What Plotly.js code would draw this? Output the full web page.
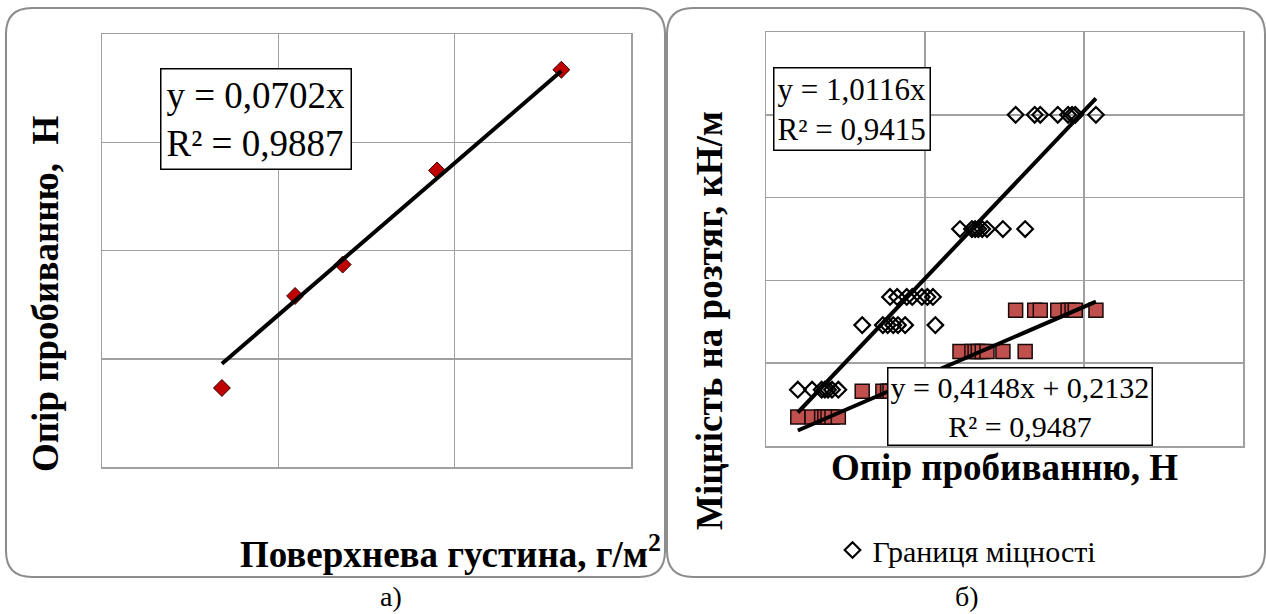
<!DOCTYPE html>
<html>
<head>
<meta charset="utf-8">
<script src="https://cdn.plot.ly/plotly-3.0.1.min.js"></script>
<style>html,body{margin:0;padding:0;background:#fff;}#chart{width:1266px;height:614px;}</style>
</head>
<body>
<div id="chart"></div>
<script>
// ---------- Panel а) data ----------
const surfaceDensity = [136, 219, 273, 380, 521];          // г/м²
const punctureResistance = [7.3, 15.8, 18.7, 27.4, 36.7];  // Н
const trendA = {slope: 0.0702, intercept: 0, r2: 0.9887};

// ---------- Panel б) data ----------
// x: Опір пробиванню, Н
const punctureX = [
  4.0, 5.8, 7.0, 7.4, 7.8, 8.3, 9.1,
  12.1, 14.7, 15.3, 16.0, 16.6, 17.5, 21.3,
  15.6, 16.5, 17.7, 18.4, 19.6, 20.3, 21.0,
  24.4, 25.9, 26.3, 26.7, 27.2, 27.8, 29.8, 32.6,
  31.4, 33.8, 34.5, 36.7, 38.0, 38.5, 38.9, 41.5
];
// Границя міцності (diamonds), кН/м
const strengthLimit = [
  6.8, 6.8, 6.8, 6.8, 6.8, 6.8, 6.8,
  14.6, 14.6, 14.6, 14.6, 14.6, 14.6, 14.6,
  18.0, 18.0, 18.0, 18.0, 18.0, 18.0, 18.0,
  26.2, 26.2, 26.2, 26.2, 26.2, 26.2, 26.2, 26.2,
  40.0, 40.0, 40.0, 40.0, 40.0, 40.0, 40.0, 40.0
];
// second series (red squares), кН/м
const secondStrength = [
  3.5, 3.5, 3.5, 3.5, 3.5, 3.5, 3.5,
  6.6, 6.6, 6.6, 6.6, 6.6, 6.6, 6.6,
  6.6, 6.6, 6.6, 6.6, 6.6, 6.6, 6.6,
  11.4, 11.4, 11.4, 11.4, 11.4, 11.4, 11.4, 11.4,
  16.4, 16.4, 16.4, 16.4, 16.4, 16.4, 16.4, 16.4
];
const trendB1 = {slope: 1.0116, intercept: 0, r2: 0.9415};
const trendB2 = {slope: 0.4148, intercept: 0.2132, r2: 0.9487};

const titles = {
  aX: 'Поверхнева густина, г/м<sup>2</sup>',
  aY: 'Опір пробиванню,\u00a0 Н',
  bX: 'Опір пробиванню, Н',
  bY: 'Міцність на розтяг, кН/м',
  legend: 'Границя міцності',
  capA: 'а)',
  capB: 'б)'
};

// ---------- helpers ----------
const W = 1266, H = 614;
const PX = v => v / W;
const PY = v => 1 - v / H;
function fmt(v, d) { return v.toFixed(d).replace('.', ','); }
function trendLine(xs, t) {
  const x0 = Math.min(...xs), x1 = Math.max(...xs);
  return {x: [x0, x1], y: [t.slope * x0 + t.intercept, t.slope * x1 + t.intercept]};
}
function roundRect(x0, y0, x1, y1, r) {
  const rx = r / W, ry = r / H;
  const L = PX(x0), R = PX(x1), T = PY(y0), B = PY(y1);
  return `M${L + rx},${T} L${R - rx},${T} Q${R},${T} ${R},${T - ry} L${R},${B + ry} Q${R},${B} ${R - rx},${B} ` +
         `L${L + rx},${B} Q${L},${B} ${L},${B + ry} L${L},${T - ry} Q${L},${T} ${L + rx},${T} Z`;
}

const serif = '"Liberation Serif", "DejaVu Serif", serif';
const gridC = '#a0a0a0';

const tA = trendLine(surfaceDensity, trendA);
const tB1 = trendLine(punctureX, trendB1);
const tB2 = trendLine(punctureX, trendB2);

const data = [
  {x: surfaceDensity, y: punctureResistance, xaxis: 'x', yaxis: 'y', type: 'scatter', mode: 'markers',
   marker: {symbol: 'diamond', size: 13, color: '#c00000', line: {color: '#300000', width: 1}}, showlegend: false},
  {x: tA.x, y: tA.y, xaxis: 'x', yaxis: 'y', type: 'scatter', mode: 'lines',
   line: {color: '#000', width: 4}, showlegend: false},
  {x: punctureX, y: strengthLimit, xaxis: 'x2', yaxis: 'y2', type: 'scatter', mode: 'markers', name: titles.legend,
   marker: {symbol: 'diamond-open', size: 12, color: '#000', line: {color: '#000', width: 2.2}}, showlegend: true},
  {x: punctureX, y: secondStrength, xaxis: 'x2', yaxis: 'y2', type: 'scatter', mode: 'markers',
   marker: {symbol: 'square', size: 14, color: '#c0504d', line: {color: '#1a0a0a', width: 1.5}}, showlegend: false},
  {x: tB1.x, y: tB1.y, xaxis: 'x2', yaxis: 'y2', type: 'scatter', mode: 'lines',
   line: {color: '#000', width: 4}, showlegend: false},
  {x: tB2.x, y: tB2.y, xaxis: 'x2', yaxis: 'y2', type: 'scatter', mode: 'lines',
   line: {color: '#000', width: 4}, showlegend: false}
];

function axis(domain, range, dtick, anchor) {
  return {domain, range, dtick, anchor, showgrid: true, gridcolor: gridC, gridwidth: 1.5,
          showline: true, linecolor: gridC, linewidth: 1.5, mirror: true, zeroline: false,
          showticklabels: false, ticks: '', fixedrange: true};
}

function ann(text, x, y, size, opts) {
  return Object.assign({text, x: PX(x), y: PY(y), xref: 'paper', yref: 'paper', showarrow: false,
    xanchor: 'center', yanchor: 'middle', font: {family: serif, size, color: '#000'}}, opts || {});
}
const boldFont = size => ({family: serif, size, color: '#000'});

const layout = {
  width: W, height: H,
  margin: {l: 0, r: 0, t: 0, b: 0},
  paper_bgcolor: '#fff', plot_bgcolor: '#fff',
  xaxis: axis([PX(102), PX(631)], [0, 600], 200, 'y'),
  yaxis: axis([PY(467), PY(34)], [0, 40], 10, 'x'),
  xaxis2: axis([PX(766), PX(1243)], [0, 60], 20, 'y2'),
  yaxis2: axis([PY(446), PY(32)], [0, 50], 10, 'x2'),
  showlegend: true,
  legend: {x: PX(967), y: PY(550), xanchor: 'center', yanchor: 'middle', bgcolor: 'rgba(0,0,0,0)',
           font: {family: serif, size: 30, color: '#000'}, itemwidth: 30},
  shapes: [
    {type: 'path', xref: 'paper', yref: 'paper', path: roundRect(6, 8, 665, 577, 26), line: {color: '#8c8c8c', width: 2}},
    {type: 'path', xref: 'paper', yref: 'paper', path: roundRect(667, 8, 1265, 577, 26), line: {color: '#8c8c8c', width: 2}}
  ],
  annotations: [
    ann(`y = ${fmt(trendA.slope, 4)}x<br>R² = ${fmt(trendA.r2, 4)}`, 255.5, 119, 37,
        {align: 'left', bordercolor: '#000', borderwidth: 1.5, bgcolor: '#fff', borderpad: 5}),
    ann(`y = ${fmt(trendB1.slope, 4)}x<br>R² = ${fmt(trendB1.r2, 4)}`, 852, 109.5, 31,
        {align: 'left', bordercolor: '#000', borderwidth: 1.5, bgcolor: '#fff', borderpad: 3}),
    ann(`y = ${fmt(trendB2.slope, 4)}x + ${fmt(trendB2.intercept, 4)}<br>R² = ${fmt(trendB2.r2, 4)}`, 1020, 406.5, 30,
        {align: 'center', bordercolor: '#000', borderwidth: 1.5, bgcolor: '#fff', borderpad: 2}),
    ann('<b>' + titles.aX + '</b>', 663, 551, 37, {xanchor: 'right', font: boldFont(37)}),
    ann('<b>' + titles.aY + '</b>', 45, 294, 37, {textangle: -90, font: boldFont(37)}),
    ann('<b>' + titles.bX + '</b>', 1004, 467, 37, {font: boldFont(37)}),
    ann('<b>' + titles.bY + '</b>', 709, 321, 37, {textangle: -90, font: boldFont(37)}),
    ann(titles.capA, 391, 614, 28, {yanchor: 'bottom'}),
    ann(titles.capB, 967, 614, 28, {yanchor: 'bottom'})
  ]
};

Plotly.newPlot('chart', data, layout, {staticPlot: true, displayModeBar: false});
</script>
</body>
</html>
